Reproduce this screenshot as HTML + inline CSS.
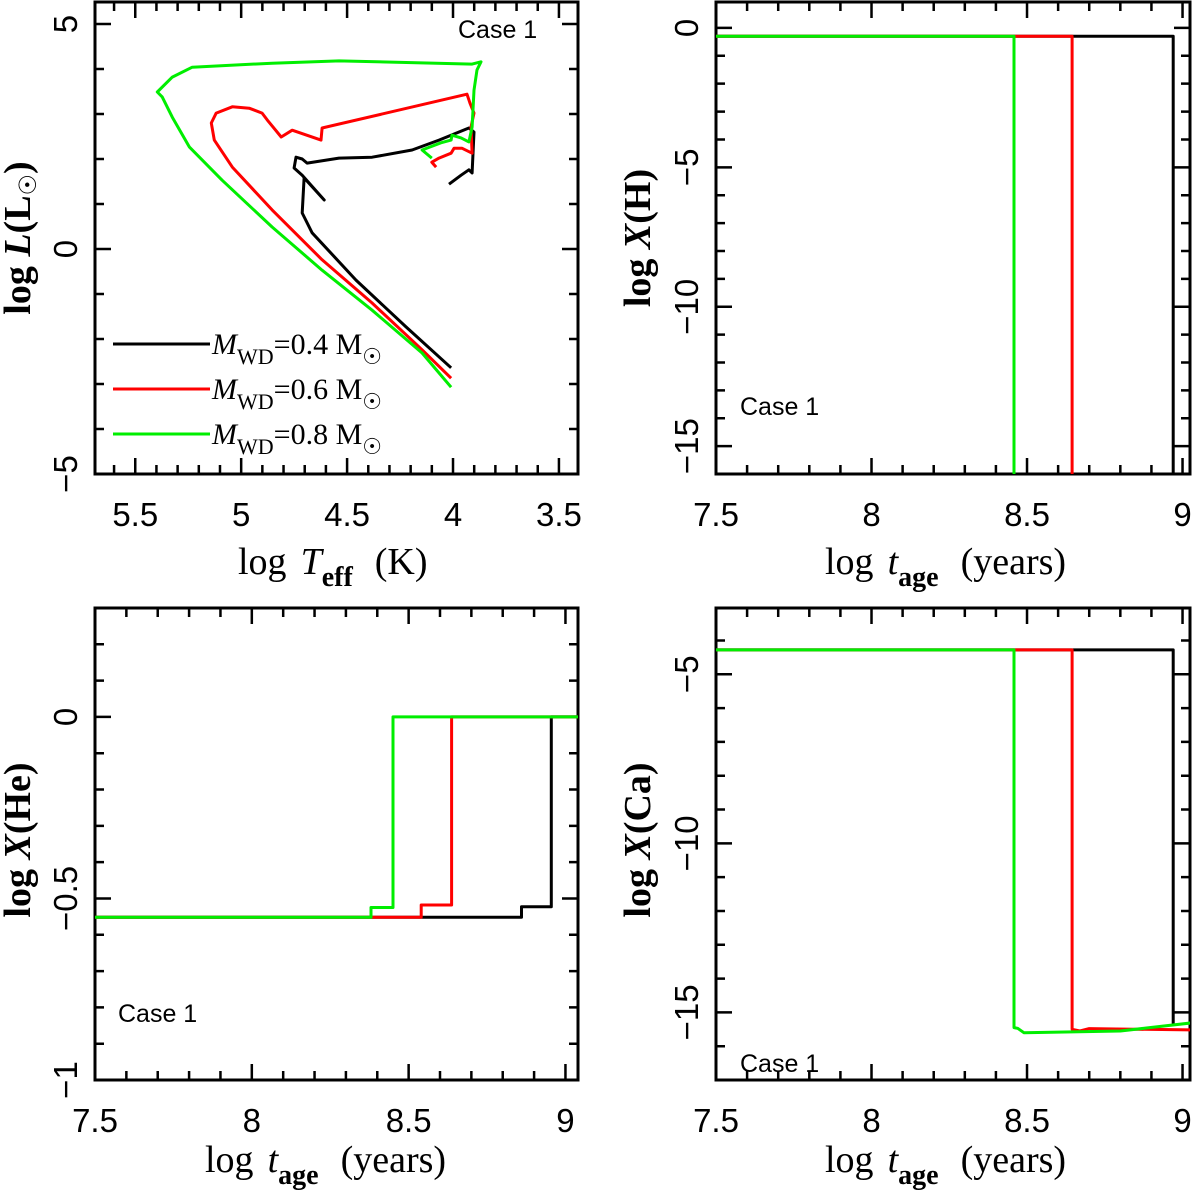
<!DOCTYPE html>
<html><head><meta charset="utf-8"><style>
html,body{margin:0;padding:0;background:#fff;}
svg{display:block;}
.tk{font-family:"Liberation Sans",sans-serif;font-size:33px;fill:#000;}
.ttl{font-family:"Liberation Serif",serif;font-size:38px;fill:#000;}
.case{font-family:"Liberation Sans",sans-serif;font-size:25px;fill:#000;}
.leg{font-family:"Liberation Serif",serif;font-size:30px;fill:#000;}
</style></head><body>
<svg id="fig" width="1200" height="1199" viewBox="0 0 1200 1199" xmlns="http://www.w3.org/2000/svg"></svg>
<script>
// ---- Data ----
// HR diagram: log Teff, log L
const hrBlackT = [4.019,3.962,3.925,3.910,3.901,3.925,4.066,4.193,4.382,4.538,4.689,4.712,4.741,4.750,4.712,4.608,4.703,4.712,4.665,4.458,4.222,4.009];
const hrBlackL = [1.44,1.64,1.76,1.69,2.60,2.69,2.42,2.20,2.04,2.02,1.91,2.00,2.04,1.80,1.64,1.09,1.58,0.80,0.36,-0.69,-1.73,-2.64];
const hrRedT = [4.080,4.100,4.066,4.009,3.995,3.958,3.910,3.915,3.901,3.920,3.934,4.618,4.623,4.759,4.811,4.877,4.901,4.962,5.042,5.118,5.141,5.127,5.042,4.854,4.618,4.382,4.146,4.009];
const hrRedL = [1.82,1.93,2.02,2.13,2.24,2.24,2.13,2.71,3.02,3.24,3.44,2.69,2.42,2.64,2.49,2.87,3.02,3.13,3.16,3.02,2.80,2.42,1.82,0.87,-0.24,-1.20,-2.24,-2.87];
const hrGreenT = [4.100,4.146,4.057,4.009,4.005,3.962,3.925,3.910,3.901,3.887,3.868,3.910,4.538,4.854,5.231,5.325,5.396,5.373,5.325,5.245,5.090,4.854,4.618,4.382,4.146,4.009];
const hrGreenL = [2.02,2.20,2.36,2.42,2.53,2.47,2.38,2.71,3.53,3.98,4.16,4.11,4.18,4.13,4.04,3.82,3.49,3.38,2.93,2.27,1.53,0.49,-0.47,-1.36,-2.31,-3.07];
// X(H) vs age
const hBlackAge = [7.5,8.97,8.97];   const hBlackVal = [-0.3,-0.3,-16];
const hRedAge = [7.5,8.645,8.645];   const hRedVal = [-0.3,-0.3,-16];
const hGreenAge = [7.5,8.458,8.458]; const hGreenVal = [-0.3,-0.3,-16];
// X(He) vs age
const heBlackAge = [7.5,8.86,8.86,8.955,8.955,9.04];
const heBlackVal = [-0.552,-0.552,-0.523,-0.523,0,0];
const heRedAge = [7.5,8.54,8.54,8.637,8.637,9.04];
const heRedVal = [-0.552,-0.552,-0.518,-0.518,0,0];
const heGreenAge = [7.5,8.38,8.38,8.45,8.45,9.04];
const heGreenVal = [-0.552,-0.552,-0.525,-0.525,0,0];
// X(Ca) vs age
const caBlackAge = [7.5,8.97,8.97];     const caBlackVal = [-4.28,-4.28,-15.36];
const caRedAge = [7.5,8.645,8.645,8.67,8.7,9.04]; const caRedVal = [-4.28,-4.28,-15.5,-15.55,-15.48,-15.52];
const caGreenAge = [7.5,8.458,8.458,8.47,8.49,8.8,9.04]; const caGreenVal = [-4.28,-4.28,-15.45,-15.47,-15.6,-15.55,-15.3];
// tick labels
const hrXTicks = [5.5,5,4.5,4,3.5];
const hrYTicks = [5,0,-5];
const ageTicks = [7.5,8,8.5,9];
const hYTicks = [0,-5,-10,-15];
const heYTicks = [0,-0.5,-1];
const caYTicks = [-5,-10,-15];
const legendLabels = ["0.4","0.6","0.8"];

const NS="http://www.w3.org/2000/svg";
const svg=document.getElementById('fig');
function mk(tag,attrs,parent){const e=document.createElementNS(NS,tag);for(const k in attrs)e.setAttribute(k,attrs[k]);(parent||svg).appendChild(e);return e;}

function panel(name,box,xr,yr,xMaj,xMin,yMaj,yMin,xt,yt){
  const g=mk('g',{});
  
  
  const sx=v=>box.l+(v-xr[0])/(xr[1]-xr[0])*(box.r-box.l);
  const sy=v=>box.b-(v-yr[0])/(yr[1]-yr[0])*(box.b-box.t);
  const eps=1e-6;
  const lo=Math.min(xr[0],xr[1]),hi=Math.max(xr[0],xr[1]);
  for(let v=Math.ceil(lo/xMin-eps)*xMin;v<=hi+eps;v+=xMin){
    const maj=Math.abs(v/xMaj-Math.round(v/xMaj))<1e-4, L=maj?16:9, x=sx(v);
    const t=mk('path',{d:`M${x},${box.b}V${box.b-L}M${x},${box.t}V${box.t+L}`,stroke:'#000','stroke-width':2.5,fill:'none'},g);
    
    
  }
  for(let v=Math.ceil(yr[0]/yMin-eps)*yMin;v<=yr[1]+eps;v+=yMin){
    const maj=Math.abs(v/yMaj-Math.round(v/yMaj))<1e-4, L=maj?16:9, y=sy(v);
    const t=mk('path',{d:`M${box.l},${y}H${box.l+L}M${box.r},${y}H${box.r-L}`,stroke:'#000','stroke-width':2.5,fill:'none'},g);
    
    
  }
  xt.forEach(v=>{const t=mk('text',{x:sx(v),y:box.b+52,'text-anchor':'middle',class:'tk'},g);t.textContent=String(v);
    
    });
  yt.forEach(v=>{const cx=box.l-30,cy=sy(v);const t=mk('text',{x:cx,y:cy+12,'text-anchor':'middle',class:'tk',transform:`rotate(-90 ${cx} ${cy})`},g);t.textContent=String(v).replace('-','\u2212');
    
    });
  const f=mk('rect',{x:box.l,y:box.t,width:box.r-box.l,height:box.b-box.t,fill:'none',stroke:'#000','stroke-width':3},g);
  
  
  return {g,sx,sy,box};
}
function line(p,xs,ys,color,name){
  const d=xs.map((x,i)=>(i?'L':'M')+p.sx(x).toFixed(1)+','+p.sy(ys[i]).toFixed(1)).join('');
  const e=mk('path',{d,stroke:color,'stroke-width':3,fill:'none','stroke-linejoin':'round','clip-path':p.clip},p.g);
  
  
}
function clip(p,id){const c=mk('clipPath',{id});mk('rect',{x:p.box.l,y:p.box.t,width:p.box.r-p.box.l,height:p.box.b-p.box.t},c);p.clip=`url(#${id})`;}
function text(p,x,y,cls,html,name,rot){const t=mk('text',{x,y,class:cls},p.g);if(rot)t.setAttribute('transform',`rotate(-90 ${x} ${y})`);t.setAttribute('text-anchor',rot?'middle':'start');t.innerHTML=html;
  
  return t;}

const BK='#000',RD='#ff0000',GR='#00ee00';
const ageTitle='log<tspan dx="14" font-style="italic">t</tspan><tspan font-size="28" dy="12" font-weight="bold">age</tspan><tspan dy="-12" dx="22">(years)</tspan>';
// Panel 1: HR
const p1=panel('hr-diagram-panel',{l:95,r:578,t:2,b:474},[5.69,3.41],[-5,5.49],0.5,0.1,5,1,hrXTicks,hrYTicks);
clip(p1,'c1');
line(p1,hrBlackT,hrBlackL,BK,'track-0.4');
line(p1,hrRedT,hrRedL,RD,'track-0.6');
line(p1,hrGreenT,hrGreenL,GR,'track-0.8');
text(p1,458,38,'case','Case 1','case-label');
text(p1,238,574,'ttl','log<tspan dx="14" font-style="italic">T</tspan><tspan font-size="28" dy="12" font-weight="bold">eff</tspan><tspan dy="-12" dx="22">(K)</tspan>','x-axis-title');
text(p1,30,238,'ttl','<tspan font-weight="bold">log </tspan><tspan font-style="italic" font-weight="bold">L</tspan><tspan font-weight="bold">(L</tspan><tspan font-size="24" dy="6">☉</tspan><tspan dy="-6" font-weight="bold">)</tspan>','y-axis-title',true);
[BK,RD,GR].forEach((c,i)=>{const y=344+i*45;
  const l=mk('line',{x1:113,x2:210,y1:y,y2:y,stroke:c,'stroke-width':3},p1.g);
  
  
  text(p1,212,y+10,'leg',`<tspan font-style="italic">M</tspan><tspan font-size="22" dy="10">WD</tspan><tspan dy="-10">=${legendLabels[i]}  M</tspan><tspan font-size="22" dy="10">☉</tspan>`,'legend-entry');});

// Panel 2: X(H)
const p2=panel('hydrogen-panel',{l:716,r:1190,t:2,b:474},[7.5,9.024],[-16,0.93],0.5,0.1,5,1,ageTicks,hYTicks);
clip(p2,'c2');
line(p2,hBlackAge,hBlackVal,BK,'h-0.4');
line(p2,hRedAge,hRedVal,RD,'h-0.6');
line(p2,hGreenAge,hGreenVal,GR,'h-0.8');
text(p2,740,415,'case','Case 1','case-label');
text(p2,825,574,'ttl',ageTitle,'x-axis-title');
text(p2,650,238,'ttl','<tspan font-weight="bold">log </tspan><tspan font-style="italic" font-weight="bold">X</tspan><tspan font-weight="bold">(H)</tspan>','y-axis-title',true);

// Panel 3: X(He)
const p3=panel('helium-panel',{l:95,r:578,t:608,b:1080},[7.5,9.04],[-1,0.3],0.5,0.1,0.5,0.1,ageTicks,heYTicks);
clip(p3,'c3');
line(p3,heBlackAge,heBlackVal,BK,'he-0.4');
line(p3,heRedAge,heRedVal,RD,'he-0.6');
line(p3,heGreenAge,heGreenVal,GR,'he-0.8');
text(p3,118,1022,'case','Case 1','case-label');
text(p3,205,1172,'ttl',ageTitle,'x-axis-title');
text(p3,30,840,'ttl','<tspan font-weight="bold">log </tspan><tspan font-style="italic" font-weight="bold">X</tspan><tspan font-weight="bold">(He)</tspan>','y-axis-title',true);

// Panel 4: X(Ca)
const p4=panel('calcium-panel',{l:716,r:1190,t:608,b:1080},[7.5,9.024],[-17,-3.04],0.5,0.1,5,1,ageTicks,caYTicks);
clip(p4,'c4');
line(p4,caBlackAge,caBlackVal,BK,'ca-0.4');
line(p4,caRedAge,caRedVal,RD,'ca-0.6');
line(p4,caGreenAge,caGreenVal,GR,'ca-0.8');
text(p4,740,1072,'case','Case 1','case-label');
text(p4,825,1172,'ttl',ageTitle,'x-axis-title');
text(p4,650,840,'ttl','<tspan font-weight="bold">log </tspan><tspan font-style="italic" font-weight="bold">X</tspan><tspan font-weight="bold">(Ca)</tspan>','y-axis-title',true);
</script>
</body></html>
